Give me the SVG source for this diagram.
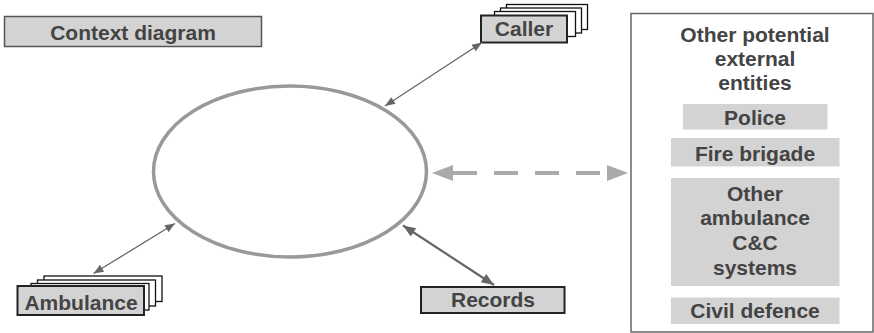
<svg xmlns="http://www.w3.org/2000/svg" width="874" height="333" viewBox="0 0 874 333">
<defs>
<style>
text{font-family:"Liberation Sans",Arial,Helvetica,sans-serif;font-weight:bold;font-size:21px;fill:#444;text-anchor:middle}
.lbl{fill:#d3d3d3;stroke:#555;stroke-width:1.5}
.front{fill:#d3d3d3;stroke:#222;stroke-width:2}
.back{fill:#fff;stroke:#111;stroke-width:1.3}
.grey{fill:#d3d3d3;stroke:none}
.conn{stroke:#666;stroke-width:1.3;fill:none}
.thick{stroke:#666;stroke-width:2.2;fill:none}
.dash{stroke:#aaa;stroke-width:4;fill:none}
</style>
<marker id="ah" viewBox="0 0 10 8" refX="10" refY="4" markerWidth="11" markerHeight="8" markerUnits="userSpaceOnUse" orient="auto-start-reverse">
<path d="M0,0 L10,4 L0,8 z" fill="#666"/>
</marker>
<marker id="ahb" viewBox="0 0 10 8" refX="10" refY="4" markerWidth="14" markerHeight="10" markerUnits="userSpaceOnUse" orient="auto-start-reverse">
<path d="M0,0 L10,4 L0,8 z" fill="#666"/>
</marker>
<marker id="ahd" viewBox="0 0 21 16" refX="21" refY="8" markerWidth="21" markerHeight="16" markerUnits="userSpaceOnUse" orient="auto-start-reverse">
<path d="M0,0 L21,8 L0,16 z" fill="#aaa"/>
</marker>
</defs>
<rect width="874" height="333" fill="#fff"/>

<g id="title">
<rect class="lbl" x="4.5" y="16.5" width="257" height="30"/>
<text x="133" y="40">Context diagram</text>
</g>

<g id="system">
<ellipse cx="290" cy="171.5" rx="136.5" ry="85.5" fill="none" stroke="#999" stroke-width="3.5"/>
</g>

<g id="caller">
<rect class="back" x="506.5" y="4.5" width="81" height="25"/>
<rect class="back" x="500.5" y="8" width="81" height="25"/>
<rect class="back" x="494.5" y="11.5" width="81" height="25"/>
<rect class="front" x="481" y="15.5" width="86" height="27"/>
<text x="524" y="36">Caller</text>
</g>

<g id="ambulance">
<rect class="back" x="44" y="276" width="118" height="25.5"/>
<rect class="back" x="37.5" y="280" width="118" height="26"/>
<rect class="back" x="31" y="283.5" width="118" height="26.5"/>
<rect class="front" x="17.5" y="286" width="126.5" height="29"/>
<text x="81" y="310">Ambulance</text>
</g>

<g id="records">
<rect class="front" x="421" y="287" width="143.5" height="26"/>
<text x="493" y="306.5">Records</text>
</g>

<g id="others">
<rect x="631" y="13.5" width="242" height="318.5" fill="#fff" stroke="#666" stroke-width="1.5"/>
<text x="755" y="42">Other potential</text>
<text x="755" y="66">external</text>
<text x="755" y="90">entities</text>
</g>
<g id="police">
<rect class="grey" x="683" y="104" width="144.5" height="25.5"/>
<text x="755" y="125">Police</text>
</g>
<g id="fire">
<rect class="grey" x="671" y="138" width="168.5" height="28.5"/>
<text x="755" y="160.5">Fire brigade</text>
</g>
<g id="otheramb">
<rect class="grey" x="671" y="178" width="168.5" height="108"/>
<text x="755" y="200.5">Other</text>
<text x="755" y="225">ambulance</text>
<text x="755" y="250">C&amp;C</text>
<text x="755" y="275">systems</text>
</g>
<g id="civil">
<rect class="grey" x="671" y="297.5" width="168.5" height="26.5"/>
<text x="755" y="318">Civil defence</text>
</g>

<g id="connectors">
<line class="conn" x1="385" y1="106" x2="482" y2="42.5" marker-start="url(#ah)" marker-end="url(#ah)"/>
<line class="conn" x1="175" y1="223.5" x2="93.5" y2="273.5" marker-start="url(#ah)" marker-end="url(#ah)"/>
<line class="thick" x1="403" y1="225.5" x2="494" y2="285" marker-start="url(#ahb)" marker-end="url(#ahb)"/>
<line class="dash" x1="432" y1="173" x2="628" y2="173" stroke-dasharray="0 13 32 17 24 17 24 17 24 28" marker-start="url(#ahd)" marker-end="url(#ahd)"/>
</g>
</svg>
